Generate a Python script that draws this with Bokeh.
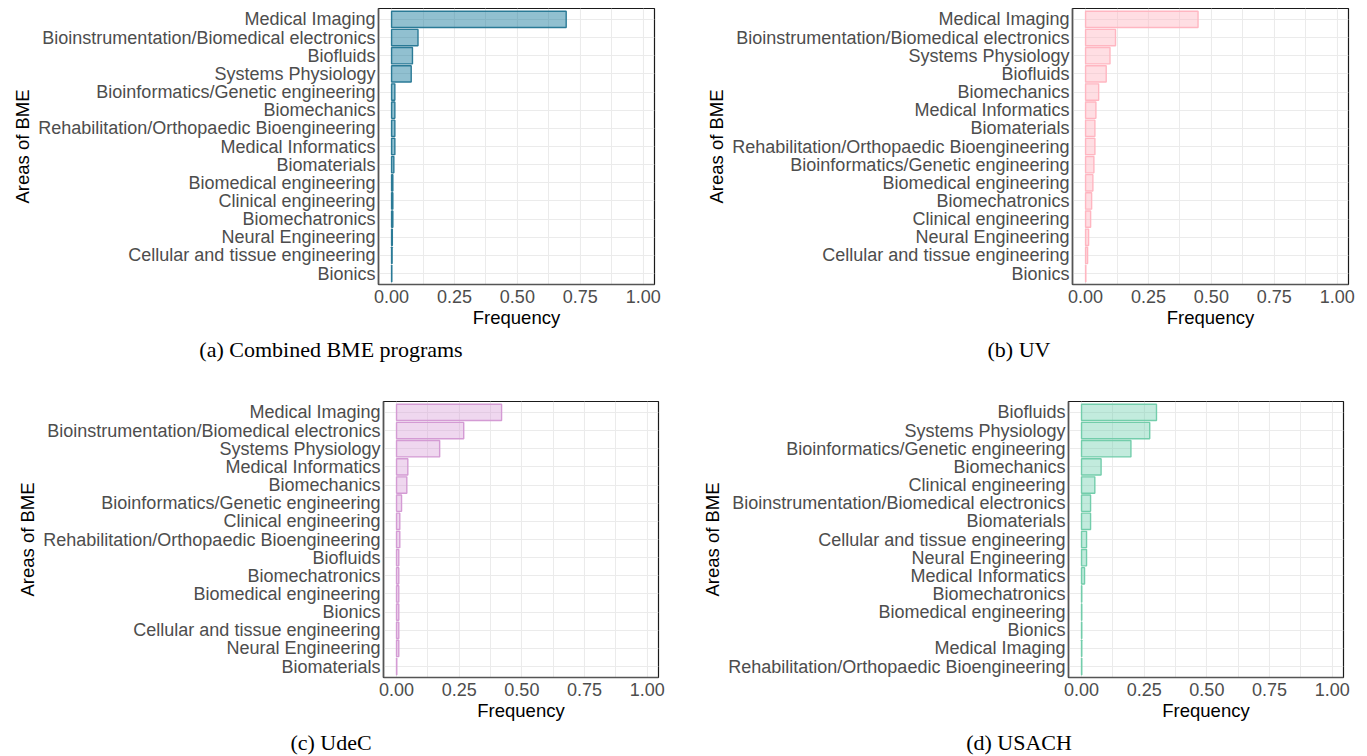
from bokeh.plotting import figure
from bokeh.models import FactorRange, Range1d, Div, Spacer, FixedTicker, ColumnDataSource
from bokeh.layouts import column, row
from bokeh.embed import file_html
from bokeh.resources import INLINE

# ---- data (top to bottom, as drawn) ----
combined_areas = ["Medical Imaging", "Bioinstrumentation/Biomedical electronics", "Biofluids",
                  "Systems Physiology", "Bioinformatics/Genetic engineering", "Biomechanics",
                  "Rehabilitation/Orthopaedic Bioengineering", "Medical Informatics", "Biomaterials",
                  "Biomedical engineering", "Clinical engineering", "Biomechatronics",
                  "Neural Engineering", "Cellular and tissue engineering", "Bionics"]
combined_freq = [0.694, 0.105, 0.083, 0.078, 0.013, 0.013, 0.013, 0.013, 0.009,
                 0.005, 0.005, 0.005, 0.003, 0.002, 0.001]

uv_areas = ["Medical Imaging", "Bioinstrumentation/Biomedical electronics", "Systems Physiology",
            "Biofluids", "Biomechanics", "Medical Informatics", "Biomaterials",
            "Rehabilitation/Orthopaedic Bioengineering", "Bioinformatics/Genetic engineering",
            "Biomedical engineering", "Biomechatronics", "Clinical engineering",
            "Neural Engineering", "Cellular and tissue engineering", "Bionics"]
uv_freq = [0.447, 0.119, 0.097, 0.082, 0.052, 0.041, 0.037, 0.037, 0.033,
           0.029, 0.024, 0.020, 0.012, 0.008, 0.001]

udec_areas = ["Medical Imaging", "Bioinstrumentation/Biomedical electronics", "Systems Physiology",
              "Medical Informatics", "Biomechanics", "Bioinformatics/Genetic engineering",
              "Clinical engineering", "Rehabilitation/Orthopaedic Bioengineering", "Biofluids",
              "Biomechatronics", "Biomedical engineering", "Bionics",
              "Cellular and tissue engineering", "Neural Engineering", "Biomaterials"]
udec_freq = [0.419, 0.268, 0.172, 0.045, 0.041, 0.020, 0.013, 0.013, 0.009,
             0.009, 0.009, 0.009, 0.009, 0.009, 0.001]

usach_areas = ["Biofluids", "Systems Physiology", "Bioinformatics/Genetic engineering",
               "Biomechanics", "Clinical engineering", "Bioinstrumentation/Biomedical electronics",
               "Biomaterials", "Cellular and tissue engineering", "Neural Engineering",
               "Medical Informatics", "Biomechatronics", "Biomedical engineering", "Bionics",
               "Medical Imaging", "Rehabilitation/Orthopaedic Bioengineering"]
usach_freq = [0.299, 0.272, 0.197, 0.078, 0.053, 0.036, 0.036, 0.020, 0.020,
              0.012, 0.001, 0.001, 0.001, 0.001, 0.001]

x_ticks = [0.0, 0.25, 0.5, 0.75, 1.0]
x_minor = [0.125, 0.375, 0.625, 0.875]
x_tick_labels = {0.0: "0.00", 0.25: "0.25", 0.5: "0.50", 0.75: "0.75", 1.0: "1.00"}
captions = ["(a) Combined BME programs", "(b) UV", "(c) UdeC", "(d) USACH"]

FONT = "Liberation Sans"


def make_panel(areas, freq, fill, line, width, border_left, border_right, border_top,
               fill_alpha=0.45):
    factors = list(reversed(areas))
    height = border_top + 276 + 54
    p = figure(width=width, height=height, output_backend="svg", toolbar_location=None,
               y_range=FactorRange(factors=factors, range_padding=0.1,
                                   range_padding_units="absolute"),
               x_range=Range1d(-0.052, 1.045),
               min_border_left=border_left, min_border_right=border_right,
               min_border_top=border_top, min_border_bottom=54)
    src = ColumnDataSource(dict(y=areas, right=freq))
    p.hbar(y="y", left=0, right="right", height=0.9, source=src,
           fill_color=fill, fill_alpha=fill_alpha, line_color=line, line_width=1.4)
    p.background_fill_color = "white"
    p.border_fill_color = "white"
    p.outline_line_color = "#1a1a1a"
    p.outline_line_width = 1.2

    p.xaxis.ticker = FixedTicker(ticks=x_ticks, minor_ticks=x_minor)
    p.xaxis.major_label_overrides = x_tick_labels
    for ax in (p.xaxis, p.yaxis):
        ax.major_tick_line_color = None
        ax.minor_tick_line_color = None
        ax.major_tick_out = 0
        ax.major_tick_in = 0
        ax.minor_tick_out = 0
        ax.minor_tick_in = 0
        ax.axis_line_color = "#555555"
        ax.axis_line_width = 1.6
        ax.major_label_text_font = FONT
        ax.major_label_text_font_size = "18px"
        ax.major_label_text_color = "#4d4d4d"
        ax.axis_label_text_font = FONT
        ax.axis_label_text_font_size = "18.5px"
        ax.axis_label_text_font_style = "normal"
        ax.axis_label_text_color = "black"
    p.xaxis.major_label_standoff = 5
    p.yaxis.major_label_standoff = 3
    p.xaxis.axis_label = "Frequency"
    p.yaxis.axis_label = "Areas of BME"
    p.xaxis.axis_label_standoff = 1
    p.yaxis.axis_label_standoff = 2

    p.xgrid.grid_line_color = "#ebebeb"
    p.xgrid.grid_line_width = 1.1
    p.xgrid.minor_grid_line_color = "#ebebeb"
    p.xgrid.minor_grid_line_width = 1.0
    p.ygrid.grid_line_color = "#ebebeb"
    p.ygrid.grid_line_width = 1.1
    return p


def caption(text, width, height):
    return Div(text=text, width=width, height=height,
               styles={"font-family": "'Liberation Serif', 'Times New Roman', serif",
                       "font-size": "22px", "line-height": "24px", "color": "black",
                       "text-align": "center", "margin": "0", "padding": "0",
                       "overflow": "visible"})


pa = make_panel(combined_areas, combined_freq, "#167a9c", "#2a7a96", 682, 370, 36, 1, 0.47)
pb = make_panel(uv_areas, uv_freq, "#ffb6c1", "#ffb6c1", 669, 382, 11, 1, 0.45)
pc = make_panel(udec_areas, udec_freq, "#d9a0d9", "#d49bd4", 682, 375, 32, 7, 0.42)
pd_ = make_panel(usach_areas, usach_freq, "#66cdaa", "#73cdab", 669, 378, 16, 7, 0.4)

grid = column(
    row(pa, pb),
    row(caption(captions[0], 646, 56), Spacer(width=36), caption(captions[1], 658, 56)),
    row(pc, pd_),
    row(caption(captions[2], 646, 25), Spacer(width=36), caption(captions[3], 658, 25)),
)
layout = column(Spacer(height=7), row(Spacer(width=8), grid))

open("out.html", "w").write(file_html(layout, INLINE))
